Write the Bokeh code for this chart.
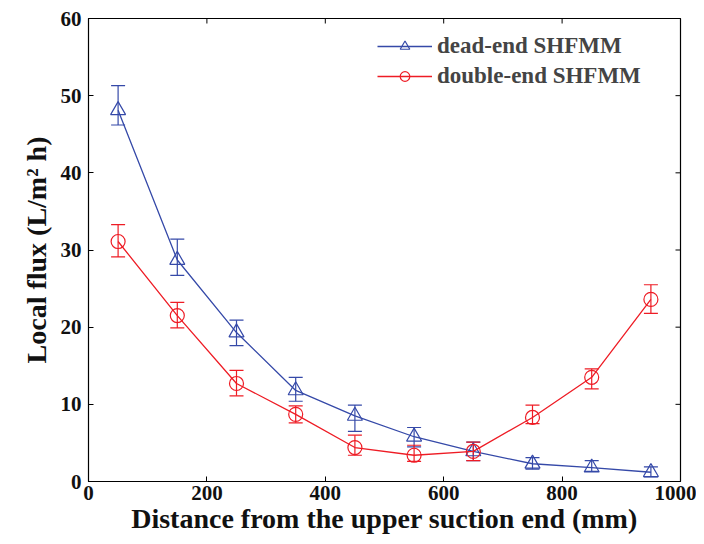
import math
from bokeh.plotting import figure
from bokeh.models import ColumnDataSource, Whisker, TeeHead, Range1d, FixedTicker, Legend, LegendItem
from bokeh.embed import file_html
from bokeh.resources import INLINE

x = [50, 150, 250, 350, 450, 550, 650, 750, 850, 950]
dead_y = [48.1, 28.7, 19.3, 11.8, 8.5, 5.8, 3.9, 2.3, 1.8, 1.2]
dead_up = [51.3, 31.4, 20.9, 13.5, 9.9, 7.0, 5.1, 3.1, 2.7, 1.9]
dead_lo = [46.2, 26.7, 17.6, 10.4, 6.5, 4.5, 2.7, 1.6, 1.3, 0.6]
dbl_y = [31.1, 21.5, 12.7, 8.7, 4.4, 3.4, 3.9, 8.3, 13.5, 23.6]
dbl_up = [33.3, 23.2, 14.4, 9.8, 6.0, 4.7, 5.1, 9.9, 14.6, 25.5]
dbl_lo = [29.1, 19.9, 11.1, 7.6, 3.4, 2.6, 2.7, 7.5, 12.0, 21.8]
x_ticks = [0, 200, 400, 600, 800, 1000]
y_ticks = [0, 10, 20, 30, 40, 50, 60]
x_max = 1000
y_max = 60

BLUE = "#3549A8"
RED = "#EE1C25"
FONT = "Liberation Serif"

p = figure(width=696, height=536, output_backend="svg", toolbar_location=None,
           x_range=Range1d(0, x_max), y_range=Range1d(0, y_max),
           min_border_left=88, min_border_right=16, min_border_top=18, min_border_bottom=55)
p.xgrid.visible = False
p.ygrid.visible = False
p.outline_line_color = "black"
p.outline_line_width = 1.2
p.background_fill_color = "white"
p.border_fill_color = "white"

src_d = ColumnDataSource(dict(x=x, y=dead_y, up=dead_up, lo=dead_lo))
src_r = ColumnDataSource(dict(x=x, y=dbl_y, up=dbl_up, lo=dbl_lo))

for src, col in ((src_d, BLUE), (src_r, RED)):
    w = Whisker(source=src, base="x", upper="up", lower="lo", line_color=col, line_width=1.2,
                upper_head=TeeHead(size=14, line_color=col, line_width=1.2),
                lower_head=TeeHead(size=14, line_color=col, line_width=1.2))
    p.add_layout(w)

l1 = p.line("x", "y", source=src_d, line_color=BLUE, line_width=1.3)
m1 = p.scatter("x", "y", source=src_d, marker="triangle", size=15, line_color=BLUE,
               fill_color=None, line_width=1.2)
l2 = p.line("x", "y", source=src_r, line_color=RED, line_width=1.3)
m2 = p.scatter("x", "y", source=src_r, marker="circle", size=14, line_color=RED,
               fill_color=None, line_width=1.2)

# mirrored ticks on top and right edges (clipped to the frame, so they point inward)
p.scatter(x=x_ticks, y=[y_max] * len(x_ticks), marker="dash", size=10, angle=math.pi / 2,
          line_color="black", line_width=1)
p.scatter(x=[x_max] * len(y_ticks), y=y_ticks, marker="dash", size=10,
          line_color="black", line_width=1)

legend = Legend(items=[LegendItem(label="dead-end SHFMM", renderers=[l1, m1]),
                       LegendItem(label="double-end SHFMM", renderers=[l2, m2])],
                location=(289, 392), border_line_color=None, background_fill_alpha=0,
                label_text_font=FONT, label_text_font_style="bold", label_text_font_size="23px",
                glyph_width=55, glyph_height=24, label_height=24, spacing=4, margin=0, padding=0,
                label_standoff=5)
p.add_layout(legend)

for ax in (p.xaxis[0], p.yaxis[0]):
    ax.major_label_text_font = FONT
    ax.major_label_text_font_style = "bold"
    ax.major_label_text_font_size = "21px"
    ax.axis_label_text_font = FONT
    ax.axis_label_text_font_style = "bold"
    ax.axis_label_text_font_size = "28px"
    ax.major_tick_in = 5
    ax.major_tick_out = 0
    ax.minor_tick_line_color = None
    ax.axis_line_color = "black"
    ax.axis_label_text_color = "#111111"
    ax.major_label_text_color = "#111111"

p.xaxis[0].ticker = FixedTicker(ticks=x_ticks)
p.yaxis[0].ticker = FixedTicker(ticks=y_ticks)
p.xaxis[0].axis_label = "Distance from the upper suction end (mm)"
p.yaxis[0].axis_label = "Local flux (L/m² h)"
p.xaxis[0].major_label_standoff = 4
p.yaxis[0].major_label_standoff = 7
p.xaxis[0].axis_label_standoff = 0
p.yaxis[0].axis_label_standoff = 6

open("out.html", "w").write(file_html(p, INLINE))
